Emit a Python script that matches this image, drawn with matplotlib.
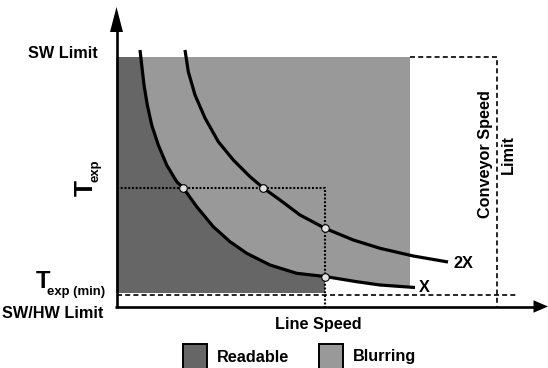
import numpy as np
import matplotlib
matplotlib.use("Agg")
import matplotlib.pyplot as plt
import matplotlib.font_manager as fm

# Curve samples: line speed (s) vs exposure time (e), in drawing units
x_speed = [23.5, 25.2, 27.5, 30.8, 35.2, 41.8, 50.2, 60.2, 66.8, 80.2, 96.8,
           113.5, 130.2, 153.5, 180.2, 208.5, 240.2, 263.5, 298.5]
x_exp = [256.5, 241.5, 221.5, 201.5, 181.5, 161.5, 141.5, 124.8, 118.5, 99.8,
         79.8, 64.8, 53.2, 41.5, 33.2, 30.0, 24.8, 21.5, 19.0]

x2_speed = [68.5, 71.8, 78.5, 88.5, 101.8, 116.8, 133.5, 146.8, 163.5, 183.5,
            208.5, 236.8, 263.5, 296.8, 331.5]
x2_exp = [256.5, 234.8, 211.5, 188.5, 164.8, 146.5, 129.8, 118.5, 106.5, 91.5,
          78.2, 66.5, 58.2, 50.5, 44.5]

# Operating limits
sw_limit = 249.5          # software exposure limit
t_exp = 118.5             # chosen exposure time
t_exp_min = 11.5          # SW/HW minimum exposure
floor_readable = 13.5     # lower edge of readable zone
op_speed = 208.5          # operating line speed
blur_edge = 293.5         # right edge of blurring zone
conveyor_limit = 380.5    # conveyor speed limit

# Intersection markers
mark_s = [66.8, 146.8, 208.5, 208.5]
mark_e = [118.5, 118.5, 78.2, 30.0]

legend_labels = ["Readable", "Blurring"]

DARK = "#666666"
LIGHT = "#999999"

names = {f.name for f in fm.fontManager.ttflist}
if "Liberation Sans Narrow" in names:
    FAM, K = "Liberation Sans Narrow", 1.0
else:
    FAM, K = "Liberation Sans", 0.9
plt.rcParams["font.family"] = [FAM, "DejaVu Sans"]
plt.rcParams["font.weight"] = "bold"
plt.rcParams["lines.scale_dashes"] = False

fig = plt.figure(figsize=(5.48, 3.68), dpi=100)
ax = fig.add_axes([0, 0, 1, 1])
ax.set_xlim(-116.5, 431.5)
ax.set_ylim(-61.5, 306.5)
ax.axis("off")

xs = np.array(x_speed)
xe = np.array(x_exp)

# Blurring zone: rectangle under SW limit, bounded below by the X curve
e_at_edge = np.interp(blur_edge, xs, xe)
seg = xs >= op_speed
light_s = [0, blur_edge, blur_edge] + list(xs[seg][::-1]) + [op_speed, 0]
light_e = [sw_limit, sw_limit, e_at_edge] + list(xe[seg][::-1]) + [floor_readable, floor_readable]
ax.fill(light_s, light_e, color=LIGHT, lw=0, zorder=1)

# Readable zone: below the X curve, up to the operating speed
s_top = np.interp(sw_limit, xe[::-1], xs[::-1])
inner = (xe < sw_limit) & (xs <= op_speed)
dark_s = [0, s_top] + list(xs[inner]) + [op_speed, 0]
dark_e = [sw_limit, sw_limit] + list(xe[inner]) + [floor_readable, floor_readable]
ax.fill(dark_s, dark_e, color=DARK, lw=0, zorder=2)

# Limit lines
dash = (0, (3.6, 2.3))
ax.plot([0, 401.5], [t_exp_min, t_exp_min], color="black", lw=1.2, ls=dash, zorder=3)
ax.plot([blur_edge, conveyor_limit, conveyor_limit], [sw_limit, sw_limit, 0],
        color="black", lw=1.2, ls=dash, zorder=3)
dot = (0, (1.4, 1.3))
ax.plot([0, op_speed, op_speed], [t_exp, t_exp, 0], color="black", lw=1.5, ls=dot, zorder=3)

# Exposure curves
ax.plot(x_speed, x_exp, color="black", lw=2.3, zorder=4, solid_capstyle="butt")
ax.plot(x2_speed, x2_exp, color="black", lw=2.3, zorder=4, solid_capstyle="butt")
ax.plot(mark_s, mark_e, ls="none", marker="o", ms=5.5, mfc="#e2e2e2", mec="black",
        mew=0.8, zorder=5)

# Axes with arrow heads
ax.plot([0, 0], [-1.5, 276], color="black", lw=1.9, zorder=6, solid_capstyle="butt")
ax.fill([-6.5, 6.5, 0], [274.5, 274.5, 299.5], color="black", lw=0, zorder=6)
ax.plot([-1.5, 420], [0, 0], color="black", lw=1.9, zorder=6, solid_capstyle="butt")
ax.fill([417, 417, 431.5], [6.2, -6.2, 0], color="black", lw=0, zorder=6)

fs = 13 * K
ax.text(-18.5, 252.5, "SW Limit", ha="right", va="center", fontsize=fs)
ax.text(-13.5, -7.5, "SW/HW Limit", ha="right", va="center", fontsize=fs)

# T_exp label (rotated)
ax.text(-23.5, 110.5, "T", rotation=90, rotation_mode="anchor", ha="left",
        va="baseline", fontsize=21 * K)
ax.text(-18, 124.5, "exp", rotation=90, rotation_mode="anchor", ha="left",
        va="baseline", fontsize=10.5 * K)

# T_exp(min) label
ax.text(-66, 18.5, "T", ha="right", va="baseline", fontsize=19 * K)
ax.text(-11.5, 11.5, "exp (min)", ha="right", va="baseline", fontsize=10.5 * K)

ax.text(201.5, -18.5, "Line Speed", ha="center", va="center", fontsize=fs)
ax.text(380.5, 152, "Conveyor Speed\nLimit", rotation=90, ha="center", va="center",
        multialignment="center", linespacing=1.6, fontsize=fs)

ax.text(336.5, 42.5, "2X", ha="left", va="center", fontsize=fs)
ax.text(302.5, 19, "X", ha="left", va="center", fontsize=fs)

# Legend
for x0, col, lab in [(66.5, DARK, legend_labels[0]), (202.5, LIGHT, legend_labels[1])]:
    ax.fill([x0, x0 + 24, x0 + 24, x0], [-37, -37, -62, -62], facecolor=col,
            edgecolor="black", lw=1.4, zorder=6, clip_on=False)
    ax.text(x0 + 34, -50.5, lab, ha="left", va="center", fontsize=fs)

fig.savefig("out.png", dpi=100)
